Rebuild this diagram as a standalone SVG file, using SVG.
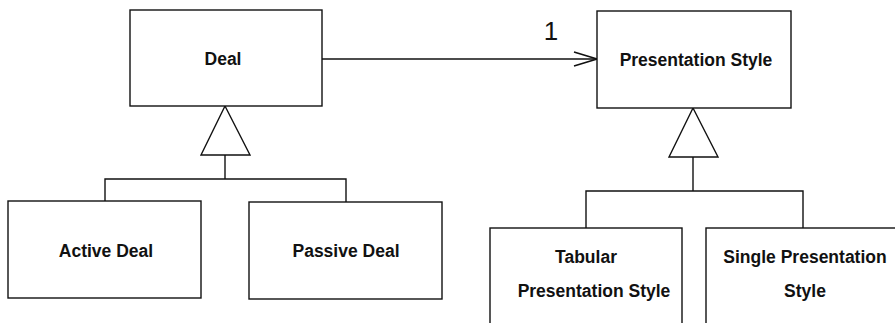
<svg xmlns="http://www.w3.org/2000/svg" width="895" height="323" viewBox="0 0 895 323">
<defs>
<style>
.box{fill:#fff;stroke:#111;stroke-width:1.4}
.ln{fill:none;stroke:#111;stroke-width:1.4}
.tri{fill:#fff;stroke:#111;stroke-width:1.4;stroke-linejoin:miter}
.t{font-family:"Liberation Sans",Arial,sans-serif;font-weight:bold;font-size:17.5px;fill:#111;text-anchor:middle}
</style>
<marker id="open" markerWidth="26" markerHeight="18" refX="24" refY="8" orient="auto" markerUnits="userSpaceOnUse">
<path d="M1,1 L24,8 L1,15" fill="none" stroke="#111" stroke-width="1.6"/>
</marker>
</defs>
<rect width="895" height="323" fill="#fff"/>
<g id="connectors">
<line class="ln" x1="322" y1="59" x2="597" y2="59" marker-end="url(#open)"/>
<text x="551" y="40" font-family="Liberation Sans,Arial,sans-serif" font-size="26" fill="#111" text-anchor="middle">1</text>
<polygon class="tri" points="225,106 201,155 250,155"/>
<polyline class="ln" points="225,155 225,179"/>
<polyline class="ln" points="105,201 105,179 346,179 346,202"/>
<polygon class="tri" points="693,108 669,157 718,157"/>
<polyline class="ln" points="693,157 693,191"/>
<polyline class="ln" points="586,228 586,191 803,191 803,228"/>
</g>
<g id="deal">
<rect class="box" x="130" y="10" width="192" height="96"/>
<text class="t" x="223" y="65" font-size="14.5">Deal</text>
</g>
<g id="presentation-style">
<rect class="box" x="597" y="11" width="194" height="97"/>
<text class="t" x="696" y="66" font-size="18">Presentation Style</text>
</g>
<g id="active-deal">
<rect class="box" x="8" y="201" width="193" height="97"/>
<text class="t" x="106" y="257">Active Deal</text>
</g>
<g id="passive-deal">
<rect class="box" x="249" y="202" width="193" height="97"/>
<text class="t" x="346" y="257">Passive Deal</text>
</g>
<g id="tabular-presentation-style">
<rect class="box" x="490" y="228" width="192" height="110"/>
<text class="t" x="586" y="263">Tabular</text>
<text class="t" x="594" y="297">Presentation Style</text>
</g>
<g id="single-presentation-style">
<rect class="box" x="706" y="228" width="200" height="110"/>
<text class="t" x="805" y="263" font-size="18.5">Single Presentation</text>
<text class="t" x="805" y="297">Style</text>
</g>
</svg>
